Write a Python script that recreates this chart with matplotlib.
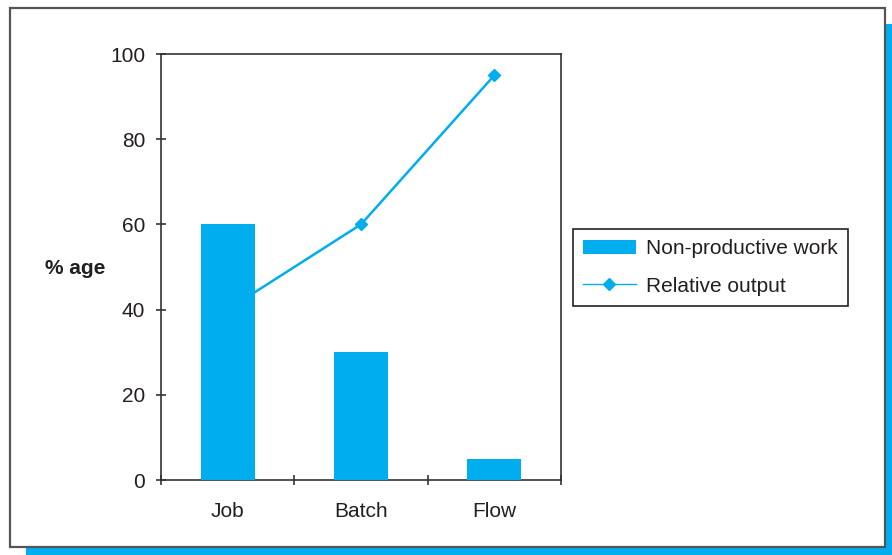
import matplotlib
matplotlib.use("Agg")
import matplotlib.pyplot as plt
from matplotlib.patches import Rectangle

categories = ["Job", "Batch", "Flow"]
non_productive = [60, 30, 5]
relative_output = [40, 60, 95]
y_ticks = [0, 20, 40, 60, 80, 100]

BLUE = "#00AEEF"
TEXT = "#231F20"
W, H = 892, 555
FS = 15

plt.rcParams["font.family"] = ["Liberation Sans", "DejaVu Sans"]

fig = plt.figure(figsize=(W / 100, H / 100), dpi=100)

def px_rect(x0, y0, x1, y1, **kw):
    # rectangle given in pixel coordinates measured from the top-left corner
    return Rectangle((x0 / W, 1 - y1 / H), (x1 - x0) / W, (y1 - y0) / H,
                     transform=fig.transFigure, **kw)

# drop shadow and white panel behind the chart
fig.add_artist(px_rect(26, 24, 905, 570, facecolor=BLUE, edgecolor="none", zorder=0))
fig.add_artist(px_rect(10, 8, 885, 547, facecolor="white", edgecolor="#555555",
                       linewidth=1.6, zorder=0.5))

ax = fig.add_axes([161 / W, 1 - 480 / H, 400 / W, 426 / H])
ax.set_zorder(1)
ax.patch.set_alpha(0)

x = list(range(len(categories)))
ax.plot(x, relative_output, color=BLUE, linewidth=1.8, marker="D", markersize=6,
        zorder=2, label="Relative output")
ax.bar(x, non_productive, width=0.405, color=BLUE, zorder=3, label="Non-productive work")

ax.set_xlim(-0.5, 2.5)
ax.set_ylim(0, 100)
ax.set_yticks(y_ticks)
ax.set_xticks(x)
ax.set_xticklabels(categories)
ax.set_xticks([-0.5, 0.5, 1.5, 2.5], minor=True)

for s in ax.spines.values():
    s.set_color("#333333")
    s.set_linewidth(1.2)

ax.tick_params(axis="y", direction="inout", length=7, width=1.2, color="#333333",
               labelsize=FS, labelcolor=TEXT, pad=8)
ax.tick_params(axis="x", which="major", length=0, labelsize=FS, labelcolor=TEXT, pad=15.5)
ax.tick_params(axis="x", which="minor", direction="inout", length=7, width=1.2,
               color="#333333")

fig.text(75 / W, 1 - 268 / H, "% age", fontsize=FS, fontweight="bold", color=TEXT,
         ha="center", va="center")

handles, labels = ax.get_legend_handles_labels()
leg = ax.legend(handles[::-1], labels[::-1], loc="upper left",
                bbox_to_anchor=(573 / W, 1 - 229 / H), bbox_transform=fig.transFigure,
                borderaxespad=0, fancybox=False, framealpha=1, edgecolor="#222222",
                fontsize=FS, handlelength=2.5, handletextpad=0.5, borderpad=0.5,
                labelspacing=0.88)
leg.get_frame().set_linewidth(1.2)
for t in leg.get_texts():
    t.set_color(TEXT)
for lh in leg.get_lines():
    lh.set_linewidth(1.0)

fig.savefig("out.png", dpi=100)
